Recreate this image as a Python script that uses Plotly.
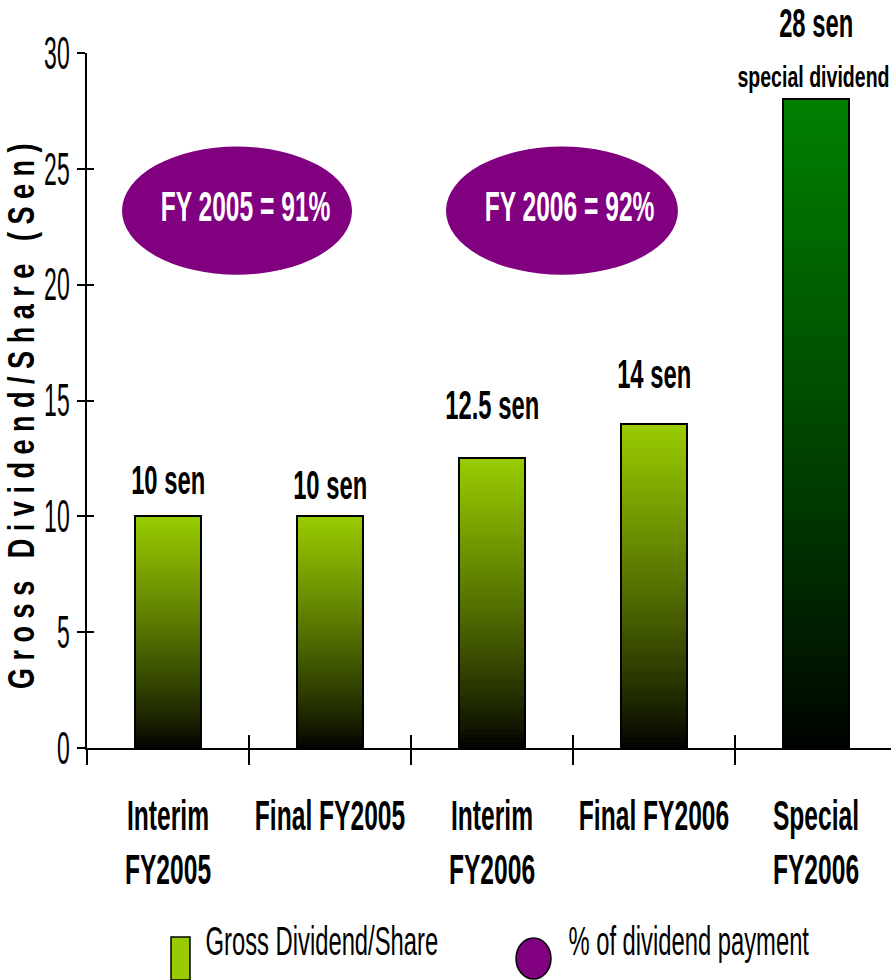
import json
import plotly.graph_objects as go

# ---- data -----------------------------------------------------------------
categories = ["Interim<br>FY2005", "Final FY2005", "Interim<br>FY2006",
              "Final FY2006", "Special<br>FY2006"]
dividend_sen = [10, 10, 12.5, 14, 28]
value_labels = ["10 sen", "10 sen", "12.5 sen", "14 sen", "28 sen"]
special_note = "special dividend"
payout_labels = ["FY 2005 = 91%", "FY 2006 = 92%"]
y_ticks = [0, 5, 10, 15, 20, 25, 30]
legend_labels = ["Gross Dividend/Share", "% of dividend payment"]

# ---- styling ----------------------------------------------------------------
SANS = "Liberation Sans, Arial, sans-serif"
LIME = "#99CC00"
GREEN = "#008000"
PURPLE = "#800080"
top_colors = [LIME, LIME, LIME, LIME, GREEN]
label_lift = [36, 31, 53, 50, 76]      # px between bar top and its label centre
N_STEPS = 60                           # slices used for the vertical gradient
GAMMA = 0.85
BAR_W = 0.41

pos = list(range(len(categories)))
bounds = [p - 0.5 for p in pos]
X_RANGE = [-0.5, 4.463]
Y_RANGE = [0, 30]


def hex_rgb(h):
    h = h.lstrip("#")
    return [int(h[i:i + 2], 16) for i in (0, 2, 4)]


def shade(hex_color, f):
    r, g, b = hex_rgb(hex_color)
    return "rgb(%d,%d,%d)" % (round(r * f), round(g * f), round(b * f))


fig = go.Figure()

# gradient bars: nested bars from tallest (bright top) to shortest (dark base)
for k in range(N_STEPS):
    frac = (N_STEPS - k) / N_STEPS
    tone = ((N_STEPS - k - 0.5) / N_STEPS) ** GAMMA
    fig.add_trace(go.Bar(
        x=pos, y=[v * frac for v in dividend_sen], width=BAR_W,
        marker=dict(color=[shade(c, tone) for c in top_colors], line=dict(width=0)),
        hoverinfo="skip", showlegend=False,
    ))

# bar outlines
fig.add_trace(go.Bar(
    x=pos, y=dividend_sen, width=BAR_W, name="Gross Dividend/Share",
    marker=dict(color="rgba(0,0,0,0)", line=dict(color="black", width=2)),
    showlegend=False,
))

# helper traces that carry the overlaid axes (inner tick halves and labels)
fig.add_trace(go.Scatter(x=pos, y=dividend_sen, xaxis="x2", yaxis="y2", mode="markers",
                         marker=dict(opacity=0), hoverinfo="skip", showlegend=False))
fig.add_trace(go.Scatter(x=pos, y=dividend_sen, xaxis="x3", yaxis="y", mode="markers",
                         marker=dict(opacity=0), hoverinfo="skip", showlegend=False))

axis_common = dict(showgrid=False, zeroline=False)
fig.update_layout(
    width=891, height=980,
    margin=dict(l=87, r=0, t=53, b=232),
    paper_bgcolor="white", plot_bgcolor="white",
    barmode="overlay", bargap=0,
    xaxis=dict(range=X_RANGE, tickmode="array", tickvals=bounds, ticks="outside",
               ticklen=15, tickwidth=1.5, tickcolor="black", showticklabels=False,
               showline=True, linecolor="black", linewidth=1.5, **axis_common),
    xaxis2=dict(range=X_RANGE, overlaying="x", anchor="y", side="bottom",
                tickmode="array", tickvals=bounds, ticks="inside", ticklen=13,
                tickwidth=1.5, tickcolor="black", showticklabels=False,
                showline=False, **axis_common),
    xaxis3=dict(range=X_RANGE, overlaying="x", anchor="y", side="bottom",
                tickmode="array", tickvals=pos, ticktext=categories, ticks="",
                ticklabelstandoff=40, showline=False,
                tickfont=dict(family=SANS, size=30, color="black", weight="bold"),
                **axis_common),
    yaxis=dict(range=Y_RANGE, tickmode="array", tickvals=y_ticks, ticks="outside",
               ticklen=8, tickwidth=1.5, tickcolor="black", ticklabelstandoff=2,
               tickfont=dict(family=SANS, size=28, color="black"),
               showline=True, linecolor="black", linewidth=1.5, **axis_common),
    yaxis2=dict(range=Y_RANGE, overlaying="y", anchor="x", side="left",
                tickmode="array", tickvals=y_ticks, ticks="inside", ticklen=7,
                tickwidth=1.5, tickcolor="black", showticklabels=False,
                showline=False, **axis_common),
)

annotations = []
# y-axis title (spaced letters)
title_txt = "G r o s s   D i v i d e n d / S h a r e   ( S e n )".replace(" ", "\u00a0")
annotations.append(dict(text=title_txt, xref="paper", yref="paper", x=-0.0808, y=0.4777,
                        xanchor="center", yanchor="middle", textangle=-90, showarrow=False,
                        font=dict(family=SANS, size=33, color="black", weight="bold")))

# value labels above the bars
for p, v, t, lift in zip(pos, dividend_sen, value_labels, label_lift):
    annotations.append(dict(text=t, x=p, y=v, xref="x", yref="y", yshift=lift,
                            xanchor="center", yanchor="middle", showarrow=False,
                            font=dict(family=SANS, size=29, color="black", weight="bold")))
annotations.append(dict(text=special_note, x=pos[-1], y=dividend_sen[-1], xref="x", yref="y",
                        yshift=22, xshift=-2, xanchor="center", yanchor="middle",
                        showarrow=False,
                        font=dict(family=SANS, size=23, color="black", weight="bold")))

# payout ellipses
ellipses = [dict(x0=-0.284, x1=1.136, tx=0.481), dict(x0=1.716, x1=3.148, tx=2.481)]
shapes = []
for e, txt in zip(ellipses, payout_labels):
    shapes.append(dict(type="circle", xref="x", yref="y", x0=e["x0"], x1=e["x1"],
                       y0=20.43, y1=25.96, fillcolor=PURPLE, line=dict(width=0),
                       layer="above"))
    annotations.append(dict(text=txt, x=e["tx"], y=23.37, xref="x", yref="y",
                            xanchor="center", yanchor="middle", showarrow=False,
                            font=dict(family=SANS, size=30, color="white", weight="bold")))

# legend drawn below the axis
shapes.append(dict(type="rect", xref="paper", yref="paper", x0=0.1045, x1=0.1281,
                   y0=-0.3338, y1=-0.272, fillcolor=LIME, line=dict(color="black", width=1.5)))
shapes.append(dict(type="circle", xref="paper", yref="paper", x0=0.5336, x1=0.5771,
                   y0=-0.3324, y1=-0.2734, fillcolor=PURPLE, line=dict(color="black", width=1.5)))
for lx, txt in zip([0.2929, 0.748], legend_labels):
    annotations.append(dict(text=txt, x=lx, y=-0.2777, xref="paper", yref="paper",
                            xanchor="center", yanchor="middle", showarrow=False,
                            font=dict(family=SANS, size=29, color="black")))

fig.update_layout(annotations=annotations, shapes=shapes)

# narrow, tall lettering: (selector, x-scale, y-scale, x-pivot, y-pivot)
text_stretch = [
    ['.x3tick text', 0.82, 1.40, 'mid', 'top'],
    ['.ytick text', 0.82, 1.63, 'right', 'mid'],
    ['g.annotation[data-index="0"] text', 0.82, 1.10, 'mid', 'mid'],
    ['g.annotation[data-index="1"] text, g.annotation[data-index="2"] text, '
     'g.annotation[data-index="3"] text, g.annotation[data-index="4"] text, '
     'g.annotation[data-index="5"] text', 0.82, 1.40, 'mid', 'mid'],
    ['g.annotation[data-index="6"] text', 0.85, 1.25, 'mid', 'mid'],
    ['g.annotation[data-index="7"] text, g.annotation[data-index="8"] text',
     0.82, 1.40, 'mid', 'mid'],
    ['g.annotation[data-index="9"] text, g.annotation[data-index="10"] text',
     0.82, 1.40, 'mid', 'mid'],
]

stretch_js = """
(function(){
  var gd = document.getElementById('{plot_id}');
  if (!gd) return;
  var rules = RULES;
  function pivot(lo, size, mode){
    if (mode === 'top' || mode === 'left') return lo;
    if (mode === 'right') return lo + size;
    return lo + size / 2;
  }
  function stretch(){
    rules.forEach(function(r){
      gd.querySelectorAll(r[0]).forEach(function(t){
        var cur = t.getAttribute('transform') || '';
        if (cur.indexOf('scale(') >= 0) return;
        var b = t.getBBox();
        var cx = pivot(b.x, b.width, r[3]);
        var cy = pivot(b.y, b.height, r[4]);
        t.setAttribute('transform', cur + ' translate(' + cx + ',' + cy + ') scale(' +
                       r[1] + ',' + r[2] + ') translate(' + (-cx) + ',' + (-cy) + ')');
      });
    });
  }
  stretch();
  if (gd.on) gd.on('plotly_afterplot', stretch);
})();
""".replace("RULES", json.dumps(text_stretch))

fig.write_html("out.html", post_script=stretch_js, config={"displayModeBar": False})
